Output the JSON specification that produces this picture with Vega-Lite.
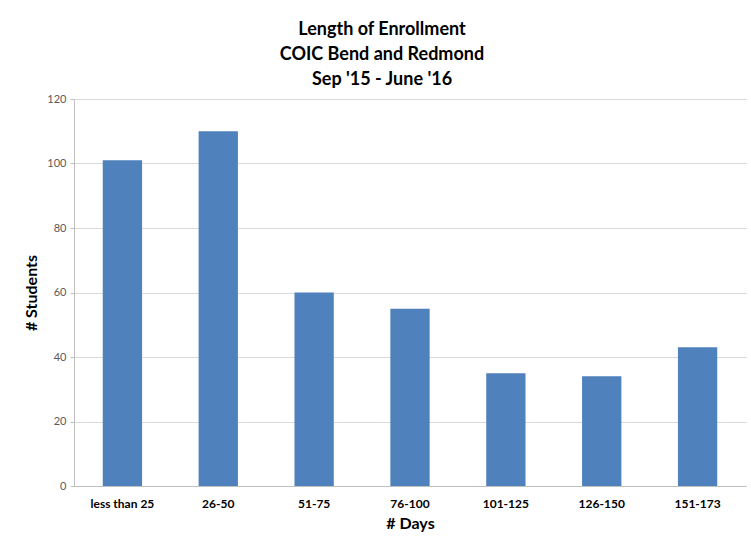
{
  "$schema": "https://vega.github.io/schema/vega-lite/v6.json",
  "autosize": {"type": "none"},
  "padding": {"left": 74, "top": 99, "right": 5, "bottom": 62},
  "width": 672,
  "height": 387,
  "background": "white",
  "title": {
    "text": ["Length of Enrollment", "COIC Bend and Redmond", "Sep '15 - June '16"],
    "font": "Lato",
    "fontSize": 18,
    "fontWeight": "bold",
    "color": "#000000",
    "lineHeight": 25,
    "anchor": "middle",
    "dx": -28,
    "offset": 4
  },
  "data": {
    "values": [
      {"days": "less than 25", "students": 101},
      {"days": "26-50", "students": 110},
      {"days": "51-75", "students": 60},
      {"days": "76-100", "students": 55},
      {"days": "101-125", "students": 35},
      {"days": "126-150", "students": 34},
      {"days": "151-173", "students": 43}
    ]
  },
  "mark": {"type": "bar", "color": "#4F81BD"},
  "encoding": {
    "x": {
      "field": "days",
      "type": "nominal",
      "sort": null,
      "scale": {"paddingInner": 0.59, "paddingOuter": 0.3},
      "axis": {
        "title": "# Days",
        "labelAngle": 0,
        "labelFont": "Lato",
        "labelFontSize": 12,
        "labelFontWeight": "bold",
        "labelColor": "#000000",
        "labelPadding": 12,
        "ticks": false,
        "domainColor": "#BFBFBF",
        "titleFont": "Lato",
        "titleFontSize": 16,
        "titleFontWeight": "bold",
        "titleColor": "#000000",
        "titlePadding": 6
      }
    },
    "y": {
      "field": "students",
      "type": "quantitative",
      "scale": {"domain": [0, 120]},
      "axis": {
        "title": "# Students",
        "values": [0, 20, 40, 60, 80, 100, 120],
        "labelFont": "Lato",
        "labelFontSize": 11,
        "labelColor": "#595959",
        "labelPadding": 4,
        "tickSize": 4,
        "tickColor": "#BFBFBF",
        "domainColor": "#BFBFBF",
        "gridColor": "#D9D9D9",
        "titleFont": "Lato",
        "titleFontSize": 16,
        "titleFontWeight": "bold",
        "titleColor": "#000000",
        "titlePadding": 7
      }
    }
  },
  "config": {
    "view": {"stroke": null}
  }
}
